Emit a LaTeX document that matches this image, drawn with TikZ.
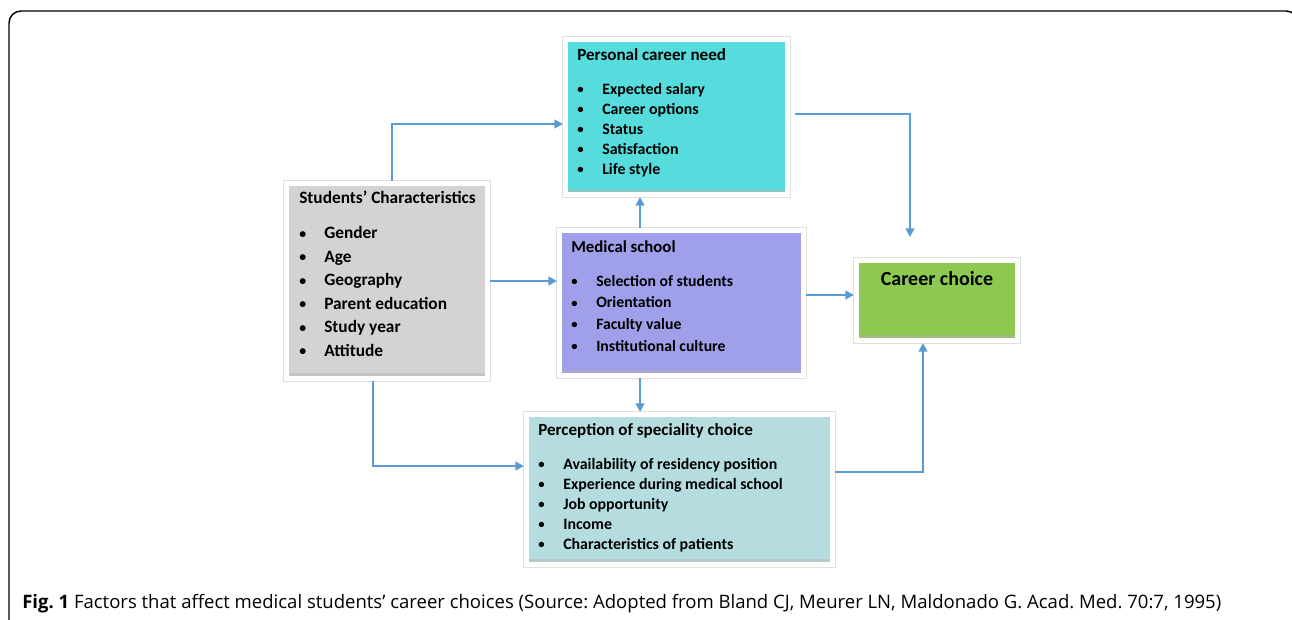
\documentclass[tikz,border=0pt]{standalone}
\usepackage{fontspec}
\setmainfont{Carlito}
\newfontfamily\capfont{Open Sans}
\usetikzlibrary{arrows.meta,calc,positioning}

\definecolor{needcyan}{HTML}{56DCDC}
\definecolor{studgrey}{HTML}{D3D3D3}
\definecolor{schoolviolet}{HTML}{A09FE9}
\definecolor{choicegreen}{HTML}{8DC851}
\definecolor{percteal}{HTML}{B5DDDF}
\definecolor{flowblue}{HTML}{5B9BD5}

\newcommand{\itm}{\makebox[18.75pt][l]{\raisebox{0.4pt}{\scalebox{0.8}{\textbullet}}}}
\newcommand{\boxtitle}[2]{{\fontsize{#1}{15}\selectfont #2}}

\tikzset{
  factor/.style={draw=white, line width=3.75pt, inner sep=0pt,
    preaction={draw=black!12, line width=5.5pt},
    path picture={\fill[black!30,opacity=.45] ([yshift=1.8pt]path picture bounding box.south west) rectangle ([yshift=3.8pt]path picture bounding box.south east);}},
  factortext/.style={anchor=north west, inner sep=0pt, align=left, font=\bfseries\fontsize{11.9}{15}\selectfont},
  flow/.style={draw=flowblue, line width=1.9pt, -{Triangle[length=6.5pt,width=6.5pt]}}
}

\begin{document}
\frenchspacing
\begin{tikzpicture}[x=0.75pt,y=-0.75pt]
  \useasboundingbox (0,0) rectangle (1292,620);
  \draw[line width=1.1pt, rounded corners=9pt] (9,660) -- (9,11) -- (1298,11) -- (1298,660);

  \node[factor, fill=needcyan, minimum width=166.5pt, minimum height=116.25pt] (need) at (676.5,117) {};
  \node[factor, fill=studgrey, minimum width=150.75pt, minimum height=146.25pt] (students) at (387,281) {};
  \node[factor, fill=schoolviolet, minimum width=183pt, minimum height=108.75pt] (school) at (681.5,303) {};
  \node[factor, fill=choicegreen, minimum width=120.75pt, minimum height=60pt] (choice) at (937,300.5) {};
  \node[factor, fill=percteal, minimum width=229.5pt, minimum height=112.5pt] (perc) at (679.5,489.5) {};

  \node[factortext] (need text) at (577,48) {\boxtitle{12.8}{Personal career need}\\[10.5pt]
    \itm Expected salary\\ \itm Career options\\ \itm Status\\ \itm Satisfaction\\ \itm Life style};
  \node[factortext, font=\bfseries\fontsize{13}{17.6}\selectfont] (students text) at (299,191) {Students’ Characteristics\\[8.6pt]
    \itm Gender\\ \itm Age\\ \itm Geography\\ \itm Parent education\\ \itm Study year\\ \itm Attitude};
  \node[factortext, font=\bfseries\fontsize{11.8}{16.3}\selectfont] (school text) at (571,240) {\boxtitle{12.6}{Medical school}\\[9.2pt]
    \itm Selection of students\\ \itm Orientation\\ \itm Faculty value\\ \itm Institutional culture};
  \node[factortext] (perc text) at (538,423) {\boxtitle{12.8}{Perception of speciality choice}\\[10.5pt]
    \itm Availability of residency position\\ \itm Experience during medical school\\ \itm Job opportunity\\ \itm Income\\ \itm Characteristics of patients};
  \node[font=\bfseries\fontsize{15}{17}\selectfont, inner sep=0pt] (choice text) at (937,279) {Career choice};

  \coordinate (school top) at ([xshift=-31.1pt]school.north);
  \coordinate (school bottom) at ([xshift=-31.1pt]school.south);
  \coordinate (school out) at ([yshift=6pt]school.east);

  \draw[flow] ([xshift=3.75pt]students.north) |- ([yshift=-5.25pt]need.west);
  \draw[flow] (students.east) -- (students.east -| school.west);
  \draw[flow] (school top) -- (school top |- need.south);
  \draw[flow, shorten <=3.75pt, shorten >=15.75pt] ([yshift=2.25pt]need.east) -| ([xshift=-20.25pt]choice.north);
  \draw[flow] (school out) -- (school out -| choice.west);
  \draw[flow] (school bottom) -- (school bottom |- perc.north);
  \draw[flow] ([xshift=-10.5pt]students.south) |- ([yshift=17.6pt]perc.west);
  \draw[flow] ([yshift=13.1pt]perc.east) -| ([xshift=-10.5pt]choice.south);

  \node[anchor=west, inner sep=0pt, font=\capfont\fontsize{13.9}{16}\selectfont] (caption) at (22,604)
    {\textbf{Fig. 1} Factors that affect medical students’ career choices (Source: Adopted from Bland CJ, Meurer LN, Maldonado G. Acad. Med. 70:7, 1995)};
\end{tikzpicture}
\end{document}
